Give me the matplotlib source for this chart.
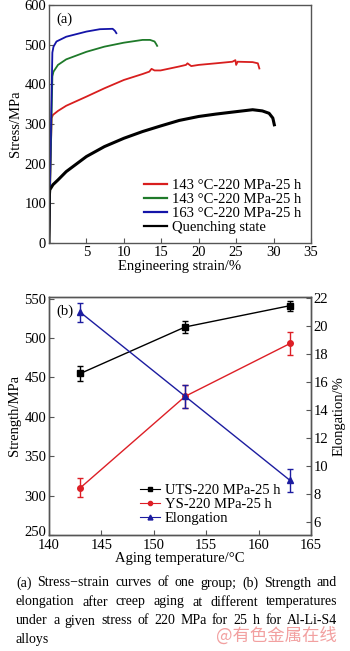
import matplotlib
matplotlib.use("Agg")
import matplotlib.pyplot as plt
from matplotlib.lines import Line2D
import matplotlib.transforms as mtransforms
import numpy as np

plt.rcParams['font.family'] = ['Liberation Serif', 'DejaVu Serif']
plt.rcParams['mathtext.fontset'] = 'stix'

# ---------------- data panel (a) ----------------
red_strain = [0, 0.2, 0.35, 0.53, 1.2, 2.3, 5.0, 7.4, 10.0, 12.5, 13.4, 13.7, 14.1, 14.9, 17.4, 18.3,
              18.5, 19.0, 20.0, 22.3, 24.5, 24.9, 25.0, 25.2, 27.2, 27.9, 28.1]
red_stress = [0, 200, 315, 323, 333, 346, 369, 390, 411, 426, 432, 439, 435, 435, 445, 449,
              453, 446, 449, 453, 457, 461, 449, 457, 456, 453, 440]

green_strain = [0, 0.3, 0.45, 0.6, 1.2, 2.3, 5.0, 7.4, 10.0, 12.5, 13.5, 14.1, 14.3, 14.45]
green_stress = [0, 280, 420, 432, 449, 463, 482, 495, 505, 512, 512, 508, 502, 497]

blue_strain = [0, 0.3, 0.45, 0.6, 1.0, 2.3, 5.0, 6.8, 8.5, 8.8, 9.0]
blue_stress = [0, 330, 480, 495, 508, 520, 533, 539, 540, 535, 529]

black_strain = [0, 0.05, 0.1, 0.53, 1.2, 2.3, 5.0, 7.4, 10.0, 12.5, 14.9, 17.4, 20.0, 22.3, 24.5,
                27.2, 28.5, 29.4, 29.9, 30.1]
black_stress = [0, 120, 134, 147, 159, 180, 218, 243, 264, 281, 295, 309, 319, 325, 330,
                336, 333, 327, 315, 298]

legend_a = ['143 °C-220 MPa-25 h', '143 °C-220 MPa-25 h', '163 °C-220 MPa-25 h', 'Quenching state']

# ---------------- data panel (b) ----------------
temps = [143, 153, 163]
uts = [455, 514, 541]
uts_err = [10, 7.5, 6.5]
ys = [310, 426, 493]
ys_err = [12, 14.5, 15]
elong = [21.0, 15.0, 9.0]
elong_err = [0.7, 0.8, 0.8]
legend_b = ['UTS-220 MPa-25 h', 'YS-220 MPa-25 h', 'Elongation']

caption = ["(a) Stress\u2212strain curves of one group; (b) Strength and",
           "elongation after creep aging at different temperatures",
           "under a given stress of 220 MPa for 25 h for Al-Li-S4",
           "alloys"]

W, H = 350, 651
fig = plt.figure(figsize=(W / 100, H / 100), dpi=100)

def ax_rect(x0, y0, x1, y1):
    return [x0 / W, 1 - y1 / H, (x1 - x0) / W, (y1 - y0) / H]

FS = 10.5
spine_c = '#555555'

def style(ax):
    for s in ax.spines.values():
        s.set_color(spine_c)
        s.set_linewidth(1.0)
    ax.tick_params(direction='in', length=3.5, width=0.8, color=spine_c, labelsize=FS, pad=2)

c_red, c_green, c_blue = '#d81e1e', '#1f7a2a', '#1414a8'

# ---------- panel (a) ----------
axa = fig.add_axes(ax_rect(49, 5, 311, 243))
style(axa)
axa.plot(red_strain, red_stress, color=c_red, lw=1.3, label=legend_a[0])
axa.plot(green_strain, green_stress, color=c_green, lw=1.3, label=legend_a[1])
axa.plot(blue_strain, blue_stress, color=c_blue, lw=1.3, label=legend_a[2])
axa.plot(black_strain, black_stress, color='black', lw=2.2, label=legend_a[3])
axa.set_xlim(0, 35)
axa.set_ylim(0, 600)
axa.set_xticks([5, 10, 15, 20, 25, 30, 35])
axa.set_yticks([0, 100, 200, 300, 400, 500, 600])
axa.tick_params(top=False, right=False)
axa.set_xlabel('Engineering strain/%', fontsize=FS, labelpad=1)
axa.set_ylabel('Stress/MPa', fontsize=FS, labelpad=2)
axa.text(0.03, 0.97, '(a)', transform=axa.transAxes, fontsize=FS, va='top', ha='left')
leg = axa.legend(loc='lower left', frameon=False, fontsize=FS, handlelength=1.6,
                 handletextpad=0.35, labelspacing=0.05, borderpad=0, borderaxespad=0,
                 bbox_to_anchor=((144 - 49) / 262, (243 - 234) / 238))
for l in leg.get_lines():
    l.set_linewidth(1.6)

# ---------- panel (b) ----------
axb = fig.add_axes(ax_rect(49, 297, 311, 535))
style(axb)
axr = axb.twinx()
style(axr)
c_ys, c_el = '#dd1f26', '#1c1ca0'
axb.errorbar(temps, uts, yerr=uts_err, color='black', marker='s', ms=4, lw=1.0,
             capsize=2.5, elinewidth=1.0)
axb.errorbar(temps, ys, yerr=ys_err, color=c_ys, marker='o', ms=4, lw=1.0,
             capsize=2.5, elinewidth=1.0)
axr.errorbar(temps, elong, yerr=elong_err, color=c_el, marker='^', ms=4.5, lw=1.0,
             capsize=2.5, elinewidth=1.0)
axb.set_xlim(140, 165)
axb.set_ylim(250, 552)
axr.set_ylim(5.1, 22.1)
axb.set_xticks([140, 145, 150, 155, 160, 165])
axb.set_yticks([250, 300, 350, 400, 450, 500, 550])
axr.set_yticks([6, 8, 10, 12, 14, 16, 18, 20, 22])
axb.tick_params(top=False, right=False)
axb.tick_params(axis='x', pad=3)
axr.tick_params(left=False, right=True, top=False)
axb.set_xlabel('Aging temperature/°C', fontsize=FS, labelpad=0)
axb.set_ylabel('Strength/MPa', fontsize=FS, labelpad=2)
axr.set_ylabel('Elongation/%', fontsize=FS, labelpad=3)
axb.text(0.03, 0.97, '(b)', transform=axb.transAxes, fontsize=FS, va='top', ha='left')
# nudge the lowest strength label up slightly so it clears the 140 label
lbl250 = axb.get_yticklabels()[0]
lbl250.set_transform(lbl250.get_transform() +
                     mtransforms.ScaledTranslation(0, 4 / 100, fig.dpi_scale_trans))
proxies = [Line2D([], [], color='black', marker='s', ms=3, lw=0.8),
           Line2D([], [], color=c_ys, marker='o', ms=3, lw=0.8),
           Line2D([], [], color=c_el, marker='^', ms=3.5, lw=0.8)]
axr.legend(proxies, legend_b, loc='lower left', frameon=False, fontsize=FS,
           handlelength=1.4, handletextpad=0.3, labelspacing=0.05, borderpad=0,
           borderaxespad=0, bbox_to_anchor=((140 - 49) / 262, (535 - 525) / 238))

# ---------- caption (justified) ----------
CFS = 10
renderer = fig.canvas.get_renderer()
x0, x1 = 16, 337
ys_px = [583, 602, 621, 640]
probe1 = fig.text(0, 0, 'a a', fontsize=CFS)
probe2 = fig.text(0, 0, 'aa', fontsize=CFS)
space_w = probe1.get_window_extent(renderer).width - probe2.get_window_extent(renderer).width
probe1.remove()
probe2.remove()
for i, line in enumerate(caption):
    words = line.split(' ')
    objs = [fig.text(0, 0, w, fontsize=CFS, ha='left', va='center') for w in words]
    widths = [o.get_window_extent(renderer).width for o in objs]
    if i < len(caption) - 1 and len(words) > 1:
        gap = (x1 - x0 - sum(widths)) / (len(words) - 1)
    else:
        gap = max(space_w, 3)
    x = x0
    for o, w in zip(objs, widths):
        o.set_position((x / W, 1 - ys_px[i] / H))
        x += w + gap

fig.text(276 / W, 1 - 636 / H, '@有色金属在线', fontsize=12.5, color='#f2a0a0', ha='center',
         va='center', family=['Noto Sans CJK SC', 'DejaVu Sans'])

fig.savefig('out.png', dpi=100)
